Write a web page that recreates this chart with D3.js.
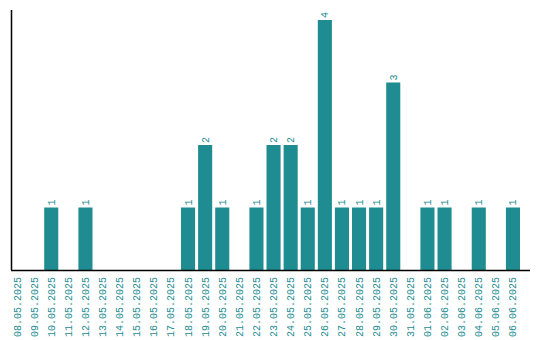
<!DOCTYPE html>
<html>
<head>
<meta charset="utf-8">
<script src="https://cdn.jsdelivr.net/npm/d3@7"></script>
<style>
    body { margin: 0; background: #fff; }
    text { font-family: "Liberation Mono", "DejaVu Sans Mono", monospace; font-size: 10px; fill: #1e8c91; }
</style>
</head>
<body>
<svg id="chart" width="540" height="340"></svg>
<script>
// Données
const dates = ["08.05.2025", "09.05.2025", "10.05.2025", "11.05.2025", "12.05.2025",
    "13.05.2025", "14.05.2025", "15.05.2025", "16.05.2025", "17.05.2025",
    "18.05.2025", "19.05.2025", "20.05.2025", "21.05.2025", "22.05.2025",
    "23.05.2025", "24.05.2025", "25.05.2025", "26.05.2025", "27.05.2025",
    "28.05.2025", "29.05.2025", "30.05.2025", "31.05.2025", "01.06.2025",
    "02.06.2025", "03.06.2025", "04.06.2025", "05.06.2025", "06.06.2025"];
const counts = [0, 0, 1, 0, 1, 0, 0, 0, 0, 0, 1, 2, 1, 0, 1, 2, 2, 1, 4, 1, 1, 1, 3, 0, 1, 1, 0, 1, 0, 1];

const color = "#1e8c91";
const margin = { top: 10, right: 530, bottom: 270, left: 11 };

const svg = d3.select("#chart");
const g = svg.append("g");

const x = d3.scaleBand()
    .domain(dates)
    .range([10, 520])
    .paddingInner(3 / 17)
    .paddingOuter(0)
    .align(0);

const y = d3.scaleLinear()
    .domain([0, 4])
    .range([margin.bottom, 20]);

const data = counts.map((v, i) => ({ date: dates[i], v: v })).filter(d => d.v > 0);

// Barres
g.selectAll("rect")
    .data(data)
    .enter()
    .append("rect")
    .attr("x", d => x(d.date))
    .attr("y", d => y(d.v))
    .attr("width", x.bandwidth())
    .attr("height", d => margin.bottom - y(d.v))
    .style("fill", color);

// Valeurs au-dessus
g.selectAll(".val")
    .data(data)
    .enter()
    .append("text")
    .attr("class", "val")
    .attr("transform", d => "translate(" + (x(d.date) + x.bandwidth() / 2 + 3.5) + "," + (y(d.v) - 2) + ") rotate(-90)")
    .text(d => d.v);

// Axes
g.append("line")
    .attr("x1", margin.left + 0.5).attr("x2", margin.left + 0.5)
    .attr("y1", margin.top).attr("y2", margin.bottom)
    .attr("stroke", "#000").attr("stroke-width", 1.5);
g.append("line")
    .attr("x1", margin.left).attr("x2", margin.right)
    .attr("y1", margin.bottom + 0.5).attr("y2", margin.bottom + 0.5)
    .attr("stroke", "#000").attr("stroke-width", 1.5);

// Dates
g.selectAll(".tick-label")
    .data(dates)
    .enter()
    .append("text")
    .attr("class", "tick-label")
    .attr("text-anchor", "end")
    .attr("transform", d => "translate(" + (x(d) + x.bandwidth() / 2 + 3.5) + "," + (margin.bottom + 7) + ") rotate(-90)")
    .text(d => d);
</script>
</body>
</html>
